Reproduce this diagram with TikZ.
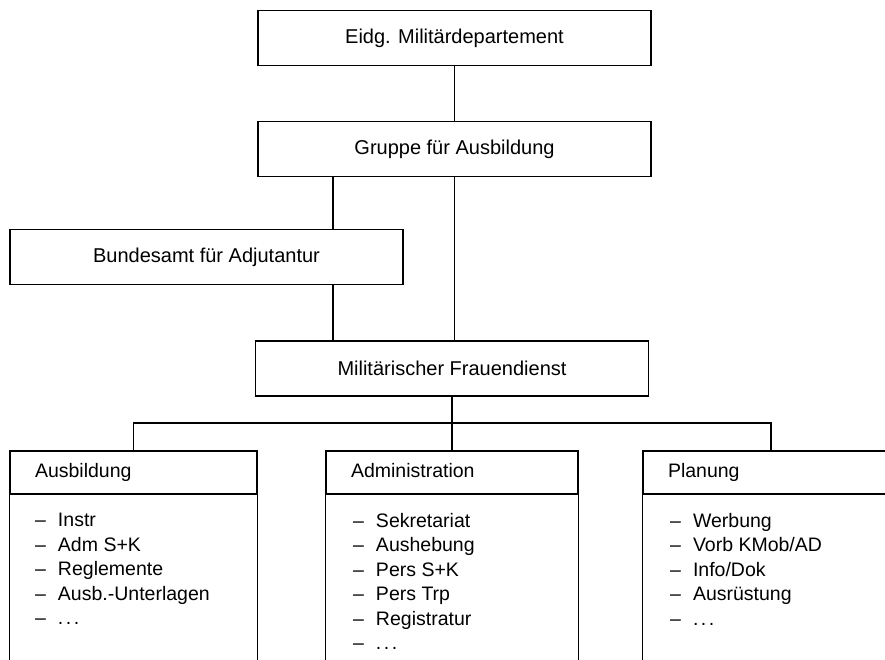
\documentclass[tikz,border=0pt]{standalone}
\usepackage{fontspec}
\setmainfont{Liberation Sans}
\usetikzlibrary{positioning}

\newcommand{\duty}[1]{\makebox[23pt][l]{–}#1}
\newcommand{\etc}{.\hspace{2.5pt}.\hspace{2.5pt}.}

\begin{document}
\begin{tikzpicture}[x=1pt, y=-1pt, line width=1.1pt,
    unit/.style={draw, minimum width=393pt, minimum height=55pt, inner sep=0pt,
                 font=\fontsize{20}{24}\selectfont},
    head/.style={draw, minimum height=43pt, inner xsep=25pt, inner ysep=0pt,
                 text height=14pt, text depth=4pt,
                 text width=#1, align=left, font=\fontsize{19.5}{24}\selectfont},
    duties/.style={anchor=north west, inner sep=0pt, align=left,
                   font=\fontsize{19.5}{24.5}\selectfont}]
    \fill[white] (0,0) rectangle (885,660);
    \useasboundingbox (0,0) rectangle (885,660);

    % upper chain
    \node[unit] (edm) at (454.5,38) {Eidg. Militärdepartement};
    \node[unit] (gfa) at (454.5,149) {Gruppe für Ausbildung};
    \node[unit] (bfa) at (206.5,257) {Bundesamt für Adjutantur};
    \node[unit] (mfd) at (452,368.5) {Militärischer Frauendienst};

    \draw (edm.south) -- (gfa.north);
    \draw ([xshift=126.5pt]bfa.north) -- ([xshift=126.5pt]bfa.north |- gfa.south);
    \draw ([xshift=126.5pt]bfa.south) -- ([xshift=126.5pt]bfa.south |- mfd.north);
    \draw (gfa.south) -- (gfa.south |- mfd.north);

    % sections
    \node[head=197pt] (ausb) at (133.5,472.5) {Ausbildung};
    \node[head=202pt] (adm) at (452,472.5) {Administration};
    \node[head=206pt] (plan) at (771,472.5) {Planung};

    \coordinate (bus) at (452,423);
    \draw (mfd.south) -- (bus);
    \draw (ausb.north) |- (bus) -| (plan.north);
    \draw (bus) -- (adm.north);

    \foreach \s in {ausb, adm, plan} {
        \draw (\s.south west) -- ++(0,200);
        \draw (\s.south east) -- ++(0,200);
    }

    \node[duties] (ausbl) at ([xshift=25pt, yshift=-18pt]ausb.south west)
        {\duty{Instr}\\ \duty{Adm S+K}\\ \duty{Reglemente}\\
         \duty{Ausb.-Unterlagen}\\ \duty{\etc}};
    \node[duties] (adml) at ([xshift=27pt, yshift=-18pt]adm.south west)
        {\duty{Sekretariat}\\ \duty{Aushebung}\\ \duty{Pers S+K}\\
         \duty{Pers Trp}\\ \duty{Registratur}\\ \duty{\etc}};
    \node[duties] (planl) at ([xshift=27pt, yshift=-18pt]plan.south west)
        {\duty{Werbung}\\ \duty{Vorb KMob/AD}\\ \duty{Info/Dok}\\
         \duty{Ausrüstung}\\ \duty{\etc}};
\end{tikzpicture}
\end{document}
